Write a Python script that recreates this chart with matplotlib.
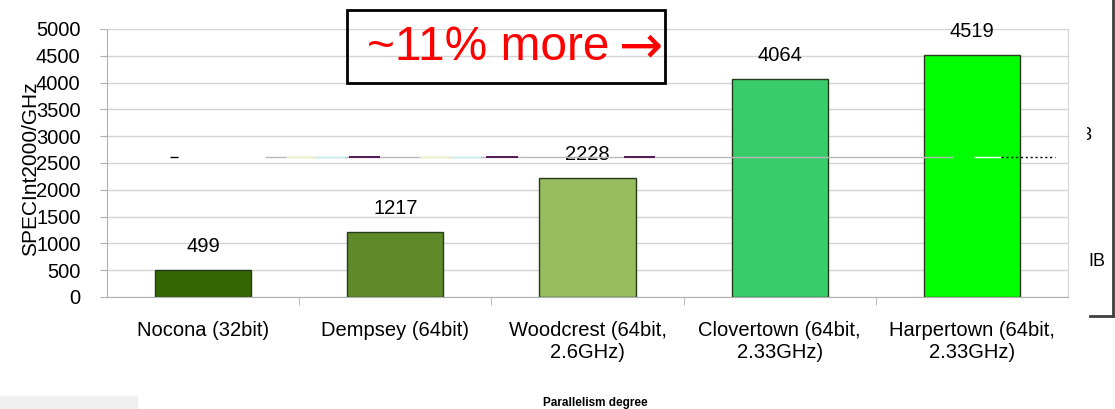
import matplotlib.pyplot as plt
from matplotlib.patches import Rectangle

plt.rcParams['font.family'] = ['Liberation Sans', 'DejaVu Sans']

# chart data
cpus = ['Nocona (32bit)', 'Dempsey (64bit)', 'Woodcrest (64bit,\n2.6GHz)',
        'Clovertown (64bit,\n2.33GHz)', 'Harpertown (64bit,\n2.33GHz)']
spec_per_ghz = [499, 1217, 2228, 4064, 4519]
bar_colors = ['#336600', '#5e8a2a', '#97bd5f', '#38cc6a', '#00ff00']
yticks = [0, 500, 1000, 1500, 2000, 2500, 3000, 3500, 4000, 4500, 5000]

fig = plt.figure(figsize=(11.15, 4.09), dpi=100)
ax = fig.add_axes([107 / 1115, 1 - 297 / 409, 961 / 1115, 268 / 409])

x = list(range(len(cpus)))
bars = ax.bar(x, spec_per_ghz, width=0.5, color=bar_colors,
              edgecolor='#263a1c', linewidth=1, zorder=2)
for xi, v in zip(x, spec_per_ghz):
    ax.annotate(str(v), (xi, v), xytext=(0, 10), textcoords='offset points',
                ha='center', va='bottom', fontsize=14.5)

# leftover stray line bits from the original slide, around y ~ 2612
stray_y = 2612
ax.hlines(stray_y, 0.32, 3.90, color='#b8b8b8', lw=1, zorder=3)
ax.hlines(stray_y, 4.01, 4.15, color='white', lw=1, zorder=3)
ax.hlines(stray_y, 4.15, 4.43, color='black', lw=1, linestyles=(0, (1.5, 2)), zorder=3)
ax.hlines(stray_y, -0.17, -0.13, color='black', lw=1, zorder=3)
for a, b in [(0.76, 0.92), (1.47, 1.64), (2.19, 2.35)]:
    ax.hlines(stray_y, a, b, color='#4b0a4b', lw=1.3, zorder=4)
for a, b in [(0.43, 0.58), (1.13, 1.29)]:
    ax.hlines(stray_y, a, b, color='#f4f4c0', lw=1, zorder=4)
for a, b in [(0.58, 0.74), (1.29, 1.44)]:
    ax.hlines(stray_y, a, b, color='#c8f4f4', lw=1, zorder=4)

ax.set_xlim(-0.5, len(cpus) - 0.5)
ax.set_ylim(0, 5000)
ax.set_yticks(yticks)
ax.set_xticks(x)
ax.set_xticklabels(cpus, fontsize=14.5)
ax.set_xticks([i + 0.5 for i in x[:-1]], minor=True)
ax.tick_params(axis='x', which='major', length=0, pad=17)
ax.tick_params(axis='x', which='minor', length=6, color='#b0b0b0', direction='out')
ax.tick_params(axis='y', length=5, color='#b0b0b0', pad=14, labelsize=14.5)
ax.grid(axis='y', color='#d4d4d4', lw=1, zorder=0)
ax.set_axisbelow(True)
for side in ['left', 'bottom']:
    ax.spines[side].set_color('#b0b0b0')
for side in ['top', 'right']:
    ax.spines[side].set_color('#d4d4d4')

ax.set_ylabel('SPECInt2000/GHz', fontsize=15)
ax.yaxis.set_label_coords(-0.07, 0.48)

# annotation box
fig.patches.append(Rectangle((347 / 1115, 1 - 83 / 409), 318 / 1115, 73 / 409,
                             transform=fig.transFigure, fill=False,
                             edgecolor='black', lw=2))
fig.text(367 / 1115, 1 - 47 / 409, '~11% more', color='red', fontsize=34.5,
         ha='left', va='center')
fig.text(641 / 1115, 1 - 47 / 409, '\u2192', color='red', fontsize=38,
         ha='center', va='center', family='DejaVu Sans')

fig.text(595 / 1115, 1 - 403 / 409, 'Parallelism degree', fontsize=8.5,
         fontweight='bold', ha='center', va='center')

# bits of other slide elements at the edges
fig.patches.append(Rectangle((0, 0), 137 / 1115, 13 / 409,
                             transform=fig.transFigure, color='#f0f0f0'))
fig.add_artist(plt.Line2D([1113 / 1115, 1113 / 1115], [1, 1 - 316 / 409],
                          color='#404040', lw=2, transform=fig.transFigure))
fig.add_artist(plt.Line2D([1090 / 1115, 1113 / 1115], [1 - 316 / 409, 1 - 316 / 409],
                          color='#404040', lw=2, transform=fig.transFigure))
edge = fig.add_axes([1087 / 1115, 0, 25 / 1115, 1])
edge.axis('off')
edge.text(-0.04, 1 - 135 / 409, '3', fontsize=13, ha='center', va='center',
          clip_on=True)
fig.text(1088 / 1115, 1 - 262 / 409, 'IB', fontsize=13, ha='left', va='center')

fig.savefig('out.png', dpi=100)
